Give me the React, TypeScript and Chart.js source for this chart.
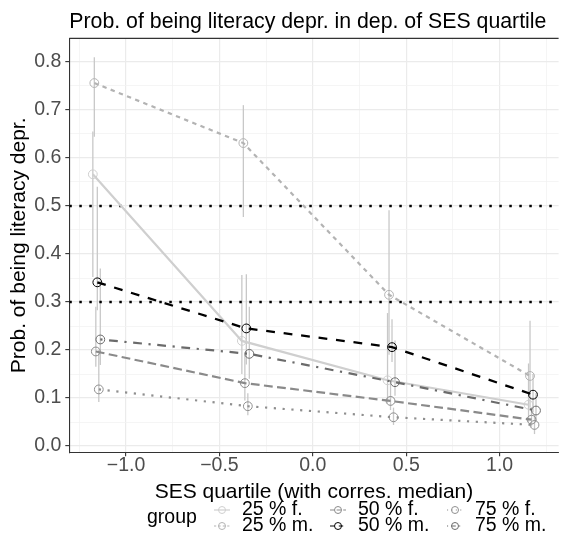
import React, { useEffect, useRef } from 'react';
import { Chart, registerables } from 'chart.js';

Chart.register(...registerables);

const FONT = '"Liberation Sans", Arial, Helvetica, sans-serif';

const chartTitle = 'Prob. of being literacy depr. in dep. of SES quartile';
const xAxisTitle = 'SES quartile (with corres. median)';
const yAxisTitle = 'Prob. of being literacy depr.';
const legendTitle = 'group';

const groupLabels = ['25 % f.', '25 % m.', '50 % f.', '50 % m.', '75 % f.', '75 % m.'];

// dodged x positions (SES quartile medians)
const x25f = [-1.178, -0.38, 0.4, 1.155];
const x25m = [-1.17, -0.372, 0.408, 1.163];
const x50f = [-1.162, -0.364, 0.416, 1.171];
const x50m = [-1.154, -0.356, 0.424, 1.179];
const x75f = [-1.146, -0.348, 0.432, 1.187];
const x75m = [-1.138, -0.34, 0.44, 1.195];

// estimated probabilities
const p25f = [0.566, 0.219, 0.137, 0.086];
const p25m = [0.756, 0.631, 0.315, 0.146];
const p50f = [0.197, 0.131, 0.094, 0.055];
const p50m = [0.341, 0.245, 0.206, 0.107];
const p75f = [0.118, 0.083, 0.06, 0.044];
const p75m = [0.222, 0.192, 0.133, 0.074];

// confidence interval lower bounds
const lo25f = [0.352, 0.15, 0.09, 0.05];
const lo25m = [0.644, 0.477, 0.19, 0.08];
const lo50f = [0.165, 0.095, 0.075, 0.04];
const lo50m = [0.283, 0.17, 0.175, 0.07];
const lo75f = [0.092, 0.064, 0.044, 0.025];
const lo75m = [0.169, 0.14, 0.105, 0.05];

// confidence interval upper bounds
const hi25f = [0.655, 0.356, 0.277, 0.172];
const hi25m = [0.81, 0.71, 0.491, 0.261];
const hi50f = [0.29, 0.19, 0.13, 0.08];
const hi50m = [0.54, 0.358, 0.264, 0.15];
const hi75f = [0.2, 0.11, 0.08, 0.065];
const hi75m = [0.37, 0.29, 0.22, 0.11];

const thresholdValues = [0.5, 0.3];

const xMajorTicks = [-1.0, -0.5, 0.0, 0.5, 1.0];
const xTickLabels = ['\u22121.0', '\u22120.5', '0.0', '0.5', '1.0'];
const xMinorTicks = [-1.25, -0.75, -0.25, 0.25, 0.75, 1.25];
const yMajorTicks = [0, 0.1, 0.2, 0.3, 0.4, 0.5, 0.6, 0.7, 0.8];
const yTickLabels = ['0.0', '0.1', '0.2', '0.3', '0.4', '0.5', '0.6', '0.7', '0.8'];
const yMinorTicks = [0.05, 0.15, 0.25, 0.35, 0.45, 0.55, 0.65, 0.75];

const X_MIN = -1.304;
const X_MAX = 1.316;
const Y_MIN = -0.013;
const Y_MAX = 0.849;

const seriesX = [x25f, x25m, x50f, x50m, x75f, x75m];
const seriesP = [p25f, p25m, p50f, p50m, p75f, p75m];
const seriesLo = [lo25f, lo25m, lo50f, lo50m, lo75f, lo75m];
const seriesHi = [hi25f, hi25m, hi50f, hi50m, hi75f, hi75m];

const seriesStyle = [
  { color: '#cfcfcf', dash: [] as number[], width: 2.2 },
  { color: '#b3b3b3', dash: [4.4, 4.4], width: 2.2 },
  { color: '#8a8a8a', dash: [8.8, 4.4], width: 2.2 },
  { color: '#000000', dash: [8.8, 8.8], width: 2.3 },
  { color: '#8f8f8f', dash: [2.2, 6.6], width: 2.2 },
  { color: '#6b6b6b', dash: [2.2, 6.6, 8.8, 6.6], width: 2.2 },
];

const FS_TICK = 19.5;
const FS_AXIS = 21;
const FS_TITLE = 21.3;
const FS_LEG = 19.5;

const near = (a: number[], v: number) => a.findIndex((t) => Math.abs(t - v) < 1e-9);

const errorBarPlugin = {
  id: 'errorBars',
  beforeDatasetsDraw(chart: any) {
    const { ctx, scales } = chart;
    const xs = scales.x;
    const ys = scales.y;
    ctx.save();
    ctx.strokeStyle = '#c8c8c8';
    ctx.lineWidth = 1.3;
    ctx.setLineDash([]);
    seriesX.forEach((xArr, s) => {
      xArr.forEach((xv, i) => {
        const px = xs.getPixelForValue(xv);
        ctx.beginPath();
        ctx.moveTo(px, ys.getPixelForValue(seriesLo[s][i]));
        ctx.lineTo(px, ys.getPixelForValue(seriesHi[s][i]));
        ctx.stroke();
      });
    });
    ctx.restore();
  },
};

const frameAndLegendPlugin = {
  id: 'frameLegend',
  afterDraw(chart: any) {
    const { ctx, chartArea } = chart;
    ctx.save();
    // top panel border
    ctx.strokeStyle = '#333333';
    ctx.lineWidth = 1.1;
    ctx.beginPath();
    ctx.moveTo(chartArea.left, chartArea.top);
    ctx.lineTo(chartArea.right, chartArea.top);
    ctx.stroke();

    // legend
    ctx.fillStyle = '#000000';
    ctx.font = `${FS_LEG}px ${FONT}`;
    ctx.textBaseline = 'middle';
    ctx.textAlign = 'left';
    ctx.fillText(legendTitle, 147, 518);
    const keyX = [222, 338, 455];
    const textX = [242, 358, 475];
    const rowY = [510, 526];
    groupLabels.forEach((lab, i) => {
      const col = Math.floor(i / 2);
      const row = i % 2;
      const st = seriesStyle[i];
      const cx = keyX[col];
      const cy = rowY[row];
      ctx.strokeStyle = st.color;
      ctx.lineWidth = 1.2;
      ctx.setLineDash(st.dash.map((d) => d * 0.5));
      ctx.beginPath();
      ctx.moveTo(cx - 8, cy);
      ctx.lineTo(cx + 8, cy);
      ctx.stroke();
      ctx.setLineDash([]);
      ctx.lineWidth = 1;
      ctx.beginPath();
      ctx.arc(cx, cy, 3.5, 0, Math.PI * 2);
      ctx.stroke();
      ctx.fillStyle = '#000000';
      ctx.fillText(lab, textX[col], cy);
    });
    ctx.restore();
  },
};

export default function App() {
  const ref = useRef<HTMLCanvasElement | null>(null);

  useEffect(() => {
    if (!ref.current) return;
    Chart.defaults.font.family = FONT;

    const seriesDatasets = groupLabels.map((lab, s) => ({
      label: lab,
      data: seriesX[s].map((x, i) => ({ x, y: seriesP[s][i] })),
      borderColor: seriesStyle[s].color,
      borderWidth: seriesStyle[s].width,
      borderDash: seriesStyle[s].dash,
      pointRadius: 4.4,
      pointBorderWidth: 1,
      pointBorderColor: seriesStyle[s].color,
      pointBackgroundColor: 'rgba(0,0,0,0)',
      pointStyle: 'circle',
      fill: false,
      tension: 0,
      order: 6 - s,
    }));

    const thresholdDatasets = thresholdValues.map((v) => ({
      label: 'threshold ' + v,
      data: [
        { x: X_MIN, y: v },
        { x: X_MAX, y: v },
      ],
      borderColor: '#000000',
      borderWidth: 2.5,
      borderDash: [2.5, 7.5],
      pointRadius: 0,
      fill: false,
      order: 10,
    }));

    const titleLH = FS_TITLE * 1.2;

    const chart = new Chart(ref.current, {
      type: 'line',
      data: { datasets: [...seriesDatasets, ...thresholdDatasets] as any },
      plugins: [errorBarPlugin, frameAndLegendPlugin],
      options: {
        animation: false,
        responsive: false,
        devicePixelRatio: 1,
        layout: { padding: { left: 0, right: 0, top: 0, bottom: 0 } },
        plugins: {
          legend: { display: false },
          tooltip: { enabled: false },
          title: {
            display: true,
            text: chartTitle,
            align: 'start',
            fullSize: false,
            color: '#000000',
            font: { size: FS_TITLE, weight: 'normal', lineHeight: 1.2 },
            padding: { top: 9, bottom: 38.4 - 9 - titleLH },
          },
        },
        scales: {
          x: {
            type: 'linear',
            min: X_MIN,
            max: X_MAX,
            afterBuildTicks: (sc: any) => {
              sc.ticks = [...xMajorTicks, ...xMinorTicks].sort((a, b) => a - b).map((v) => ({ value: v }));
            },
            afterFit: (sc: any) => {
              sc.height = 105.7;
            },
            ticks: {
              autoSkip: false,
              maxRotation: 0,
              padding: 0,
              color: '#4d4d4d',
              font: { size: FS_TICK, lineHeight: 1.0 },
              callback: (v: any) => {
                const i = near(xMajorTicks, Number(v));
                return i >= 0 ? xTickLabels[i] : '';
              },
            },
            grid: {
              drawTicks: true,
              tickLength: 4,
              color: (c: any) => (near(xMajorTicks, c.tick?.value) >= 0 ? '#ebebeb' : '#f3f3f3'),
              lineWidth: (c: any) => (near(xMajorTicks, c.tick?.value) >= 0 ? 1.2 : 0.8),
              tickColor: (c: any) => (near(xMajorTicks, c.tick?.value) >= 0 ? '#333333' : 'rgba(0,0,0,0)'),
              tickWidth: 1.1,
            },
            border: { display: true, color: '#333333', width: 1.1 },
            title: {
              display: true,
              text: xAxisTitle,
              color: '#000000',
              font: { size: FS_AXIS, lineHeight: 1.2 },
              padding: { top: 0, bottom: 66 - FS_AXIS * 0.6 },
            },
          },
          y: {
            type: 'linear',
            min: Y_MIN,
            max: Y_MAX,
            afterBuildTicks: (sc: any) => {
              sc.ticks = [...yMajorTicks, ...yMinorTicks].sort((a, b) => a - b).map((v) => ({ value: v }));
            },
            afterFit: (sc: any) => {
              sc.width = 69.3;
            },
            ticks: {
              autoSkip: false,
              padding: 4,
              color: '#4d4d4d',
              font: { size: FS_TICK, lineHeight: 1.0 },
              callback: (v: any) => {
                const i = near(yMajorTicks, Number(v));
                return i >= 0 ? yTickLabels[i] : '';
              },
            },
            grid: {
              drawTicks: true,
              tickLength: 4,
              color: (c: any) => (near(yMajorTicks, c.tick?.value) >= 0 ? '#ebebeb' : '#f3f3f3'),
              lineWidth: (c: any) => (near(yMajorTicks, c.tick?.value) >= 0 ? 1.2 : 0.8),
              tickColor: (c: any) => (near(yMajorTicks, c.tick?.value) >= 0 ? '#333333' : 'rgba(0,0,0,0)'),
              tickWidth: 1.1,
            },
            border: { display: true, color: '#333333', width: 1.1 },
            title: {
              display: true,
              text: yAxisTitle,
              color: '#000000',
              font: { size: FS_AXIS, lineHeight: 1.2 },
              padding: { top: 19.5 - FS_AXIS * 0.6, bottom: 0 },
            },
          },
        },
      } as any,
    });

    return () => chart.destroy();
  }, []);

  return (
    <div style={{ position: 'fixed', left: 0, top: 0, width: 564, height: 558, background: '#ffffff' }}>
      <canvas ref={ref} width={564} height={558} style={{ display: 'block', width: 564, height: 558 }} />
    </div>
  );
}
